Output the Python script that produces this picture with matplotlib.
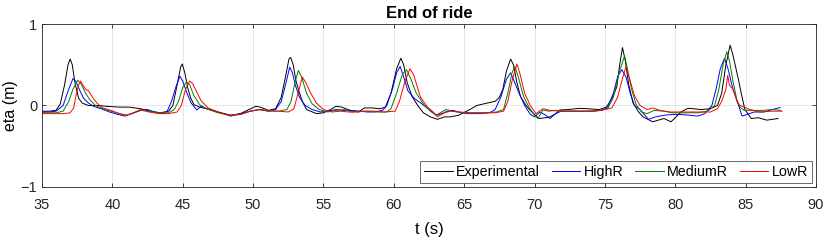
import matplotlib
matplotlib.use('Agg')
import matplotlib.pyplot as plt

plt.rcParams['font.family'] = ['Liberation Sans', 'DejaVu Sans']

# Experimental (black)
t_exp = [35.0, 35.5, 36.0, 36.3, 36.6, 36.85, 37.0, 37.15, 37.35, 37.6, 37.85, 38.3, 39.0, 39.6, 40.5, 41.2,
         42.0, 42.7, 43.4, 44.0, 44.3, 44.6, 44.85, 44.97, 45.15, 45.35, 45.55, 45.8, 46.2, 46.7, 47.5, 48.4,
         49.1, 49.7, 50.2, 50.5, 51.1, 51.6, 52.0, 52.3, 52.55, 52.67, 52.85, 53.05, 53.25, 53.5, 53.8, 54.5,
         55.0, 55.5, 55.9, 56.3, 56.9, 57.5, 57.9, 58.5, 59.0, 59.4, 59.8, 60.2, 60.5, 60.7, 60.95, 61.3,
         61.7, 62.1, 62.6, 63.1, 63.6, 64.0, 64.6, 65.4, 65.9, 66.4, 66.9, 67.2, 67.5, 67.75, 68.0, 68.3,
         68.5, 68.75, 69.0, 69.4, 69.7, 70.3, 70.8, 71.1, 71.5, 71.8, 72.4, 73.2, 73.8, 74.6, 75.1, 75.5,
         75.85, 76.05, 76.25, 76.45, 76.7, 77.0, 77.4, 77.7, 78.4, 78.8, 79.2, 79.7, 80.0, 80.4, 80.9, 81.3,
         81.8, 82.5, 83.0, 83.3, 83.6, 83.9, 84.1, 84.5, 84.75, 84.95, 85.4, 85.9, 86.5, 87.3]
eta_exp = [-0.07, -0.07, -0.06, 0.02, 0.25, 0.50, 0.57, 0.50, 0.27, 0.09, 0.03, 0.0, 0.0, -0.01, -0.02, -0.02,
           -0.04, -0.07, -0.09, -0.07, 0.0, 0.25, 0.47, 0.51, 0.40, 0.22, 0.10, 0.01, -0.02, -0.04, -0.08, -0.12,
           -0.10, -0.05, -0.01, -0.02, -0.06, -0.04, 0.10, 0.35, 0.57, 0.59, 0.50, 0.30, 0.18, 0.05, -0.05, -0.10,
           -0.09, -0.05, -0.01, -0.02, -0.06, -0.08, -0.03, -0.03, -0.04, -0.02, 0.15, 0.45, 0.58, 0.50, 0.28, 0.11,
           0.0, -0.09, -0.14, -0.17, -0.14, -0.14, -0.12, -0.05, 0.0, 0.02, 0.04, 0.05, 0.10, 0.20, 0.42, 0.57,
           0.50, 0.28, 0.11, 0.0, -0.06, -0.16, -0.15, -0.14, -0.10, -0.055, -0.05, -0.035, -0.04, -0.05, -0.02, 0.08,
           0.23, 0.50, 0.71, 0.55, 0.25, 0.03, -0.08, -0.14, -0.20, -0.18, -0.16, -0.20, -0.15, -0.08, -0.035, -0.04,
           -0.05, -0.04, 0.0, 0.15, 0.50, 0.74, 0.62, 0.31, 0.10, -0.05, -0.16, -0.15, -0.18, -0.16]

# HighR (blue)
t_high = [35.0, 35.5, 36.0, 36.5, 36.9, 37.2, 37.4, 37.7, 37.95, 38.3, 38.65, 39.2, 39.8, 40.4, 40.9, 41.4,
          42.0, 42.5, 43.0, 43.6, 43.9, 44.2, 44.5, 44.8, 45.0, 45.3, 45.6, 46.0, 46.3, 46.7, 47.5, 48.4,
          49.1, 49.8, 50.4, 51.1, 51.6, 52.0, 52.3, 52.6, 52.8, 53.0, 53.3, 53.7, 54.2, 54.8, 55.3, 55.9,
          56.4, 56.9, 57.6, 58.1, 58.6, 59.2, 59.5, 59.9, 60.2, 60.45, 60.7, 61.0, 61.5, 62.0, 62.5, 63.05,
          63.4, 63.8, 64.2, 64.6, 65.2, 66.0, 66.8, 67.2, 67.6, 68.0, 68.3, 68.55, 68.9, 69.3, 69.7, 70.0,
          70.4, 70.8, 71.1, 71.5, 71.9, 72.5, 73.2, 74.0, 74.8, 75.2, 75.6, 75.9, 76.2, 76.5, 76.8, 77.1,
          77.5, 78.1, 78.6, 79.2, 79.8, 80.4, 81.0, 81.6, 82.1, 82.6, 82.9, 83.2, 83.5, 83.75, 84.1, 84.5,
          84.75, 85.1, 85.6, 86.3, 86.9, 87.45]
eta_high = [-0.08, -0.08, -0.07, 0.0, 0.20, 0.33, 0.30, 0.18, 0.09, 0.03, -0.01, -0.04, -0.08, -0.11, -0.13, -0.10,
            -0.06, -0.05, -0.08, -0.10, -0.07, 0.05, 0.22, 0.36, 0.30, 0.15, 0.03, -0.055, -0.01, -0.04, -0.08, -0.13,
            -0.10, -0.07, -0.05, -0.07, -0.05, 0.05, 0.25, 0.47, 0.40, 0.25, 0.10, 0.0, -0.05, -0.08, -0.07, -0.05,
            -0.06, -0.06, -0.07, -0.08, -0.08, -0.06, 0.0, 0.20, 0.40, 0.48, 0.35, 0.18, 0.08, 0.02, -0.05, -0.12,
            -0.10, -0.07, -0.06, -0.08, -0.10, -0.10, -0.09, -0.05, 0.10, 0.32, 0.40, 0.30, 0.15, 0.0, -0.11, -0.14,
            -0.08, -0.12, -0.16, -0.10, -0.07, -0.07, -0.07, -0.07, -0.06, -0.02, 0.15, 0.35, 0.44, 0.35, 0.15, 0.0,
            -0.05, -0.17, -0.14, -0.12, -0.11, -0.11, -0.12, -0.13, -0.10, 0.0, 0.20, 0.45, 0.58, 0.45, 0.20, 0.0,
            -0.13, -0.11, -0.08, -0.08, -0.05, -0.025]

# MediumR (green)
t_med = [35.0, 35.5, 36.0, 36.5, 36.9, 37.2, 37.55, 37.8, 38.1, 38.4, 38.8, 39.3, 39.9, 40.5, 41.0, 41.5,
         42.0, 42.6, 43.3, 44.0, 44.4, 44.7, 45.0, 45.28, 45.5, 45.8, 46.2, 46.7, 47.5, 48.4, 49.1, 49.8,
         50.5, 51.1, 51.8, 52.4, 52.7, 53.0, 53.22, 53.45, 53.8, 54.2, 54.7, 55.3, 55.9, 56.5, 57.0, 57.6,
         58.2, 58.8, 59.5, 59.8, 60.2, 60.6, 60.9, 61.2, 61.6, 62.1, 62.6, 63.0, 63.4, 63.7, 64.2, 64.8,
         65.6, 66.5, 67.3, 67.8, 68.1, 68.4, 68.6, 68.85, 69.2, 69.6, 70.0, 70.25, 70.6, 71.0, 71.5, 72.2,
         73.0, 73.8, 74.6, 75.2, 75.6, 76.0, 76.4, 76.6, 76.9, 77.2, 77.6, 78.0, 78.5, 79.2, 79.8, 80.4,
         81.0, 81.6, 82.3, 82.8, 83.1, 83.4, 83.66, 83.85, 84.1, 84.4, 84.6, 84.9, 85.5, 86.2, 86.9, 87.5]
eta_med = [-0.09, -0.09, -0.09, -0.07, 0.05, 0.20, 0.31, 0.26, 0.15, 0.07, 0.0, -0.04, -0.07, -0.10, -0.12, -0.09,
           -0.06, -0.07, -0.09, -0.09, -0.05, 0.05, 0.22, 0.29, 0.25, 0.12, 0.01, -0.04, -0.09, -0.12, -0.11, -0.07,
           -0.05, -0.07, -0.07, -0.05, 0.05, 0.30, 0.43, 0.35, 0.15, 0.02, -0.05, -0.08, -0.06, -0.05, -0.08, -0.07,
           -0.07, -0.08, -0.08, -0.04, 0.15, 0.38, 0.44, 0.33, 0.15, 0.02, -0.07, -0.12, -0.08, -0.05, -0.07, -0.09,
           -0.09, -0.09, -0.08, -0.05, 0.15, 0.40, 0.48, 0.35, 0.12, -0.02, -0.12, -0.16, -0.055, -0.07, -0.06, -0.07,
           -0.07, -0.07, -0.06, -0.04, 0.10, 0.40, 0.61, 0.45, 0.20, 0.02, -0.08, -0.10, -0.06, -0.07, -0.09, -0.09,
           -0.09, -0.09, -0.07, 0.0, 0.20, 0.50, 0.66, 0.55, 0.30, 0.05, -0.02, -0.06, -0.06, -0.06, -0.05, -0.06]

# LowR (red)
t_low = [35.0, 35.5, 36.0, 36.5, 37.0, 37.25, 37.45, 37.6, 37.75, 37.9, 38.1, 38.3, 38.6, 38.9, 39.3, 39.9,
         40.5, 41.0, 41.5, 42.0, 42.6, 43.3, 44.0, 44.6, 44.9, 45.2, 45.5, 45.7, 45.95, 46.3, 46.8, 47.5,
         48.4, 49.1, 49.8, 50.5, 51.1, 51.8, 52.5, 52.9, 53.2, 53.5, 53.75, 54.1, 54.5, 55.0, 55.6, 56.2,
         56.8, 57.4, 58.0, 58.6, 59.3, 60.1, 60.4, 60.8, 61.15, 61.4, 61.9, 62.4, 62.8, 63.1, 63.6, 64.0,
         64.7, 65.5, 66.4, 67.2, 67.8, 68.1, 68.4, 68.75, 68.95, 69.3, 69.7, 70.1, 70.6, 71.1, 71.8, 72.6,
         73.5, 74.3, 75.0, 75.5, 75.9, 76.2, 76.5, 76.8, 77.1, 77.5, 78.0, 78.4, 78.9, 79.6, 80.3, 81.0,
         81.7, 82.5, 83.0, 83.3, 83.6, 83.73, 83.85, 84.1, 84.4, 84.6, 84.9, 85.3, 86.0, 86.8, 87.6]
eta_low = [-0.10, -0.10, -0.10, -0.10, -0.09, -0.03, 0.15, 0.25, 0.30, 0.25, 0.20, 0.18, 0.10, 0.03, -0.03, -0.06,
           -0.10, -0.12, -0.09, -0.05, -0.08, -0.10, -0.10, -0.08, 0.0, 0.20, 0.30, 0.27, 0.18, 0.06, -0.03, -0.08,
           -0.12, -0.11, -0.07, -0.05, -0.06, -0.07, -0.08, -0.04, 0.15, 0.35, 0.28, 0.15, 0.03, -0.05, -0.08, -0.07,
           -0.08, -0.08, -0.07, -0.07, -0.08, -0.07, 0.05, 0.30, 0.45, 0.38, 0.10, -0.02, -0.08, -0.14, -0.09, -0.07,
           -0.08, -0.09, -0.09, -0.09, -0.07, 0.05, 0.30, 0.51, 0.40, 0.15, 0.0, -0.10, -0.04, -0.06, -0.07, -0.07,
           -0.07, -0.07, -0.05, -0.03, 0.10, 0.30, 0.48, 0.30, 0.12, 0.0, -0.05, -0.03, -0.06, -0.08, -0.08, -0.08,
           -0.08, -0.08, -0.04, 0.05, 0.20, 0.37, 0.25, 0.20, 0.05, 0.0, -0.02, -0.05, -0.08, -0.07, -0.07]

x_ticks = [35, 40, 45, 50, 55, 60, 65, 70, 75, 80, 85, 90]
y_ticks = [-1, 0, 1]

fig = plt.figure(figsize=(8.3, 2.4), dpi=100)
ax = fig.add_axes([0.0506, 0.221, 0.9325, 0.679])

lw = 0.7
ax.plot(t_exp, eta_exp, color='black', lw=lw, label='Experimental')
ax.plot(t_high, eta_high, color='#0000ff', lw=lw, label='HighR')
ax.plot(t_med, eta_med, color='#008000', lw=lw, label='MediumR')
ax.plot(t_low, eta_low, color='#ff0000', lw=lw, label='LowR')

ax.set_xlim(35, 90)
ax.set_ylim(-1, 1)
ax.set_xticks(x_ticks)
ax.set_yticks(y_ticks)
ax.grid(True, color='#e3e3e3', lw=0.6)
ax.set_axisbelow(True)
ax.tick_params(direction='in', top=True, right=True, labelsize=10.5, colors='#262626', length=3, width=0.6)
ax.tick_params(axis='x', pad=8)
for s in ax.spines.values():
    s.set_color('#262626')
    s.set_linewidth(0.6)

ax.set_title('End of ride', fontsize=12, fontweight='bold', pad=4)
ax.set_xlabel('t (s)', fontsize=12, labelpad=7)
ax.set_ylabel('eta (m)', fontsize=11.5, labelpad=2)

leg = ax.legend(loc='lower right', ncol=4, fontsize=10.3, frameon=True, fancybox=False,
                edgecolor='#262626', handlelength=2.0, handletextpad=0.25, columnspacing=0.8,
                borderaxespad=0.25, borderpad=0.3)
leg.get_frame().set_linewidth(0.6)

fig.savefig('out.png', dpi=100)
